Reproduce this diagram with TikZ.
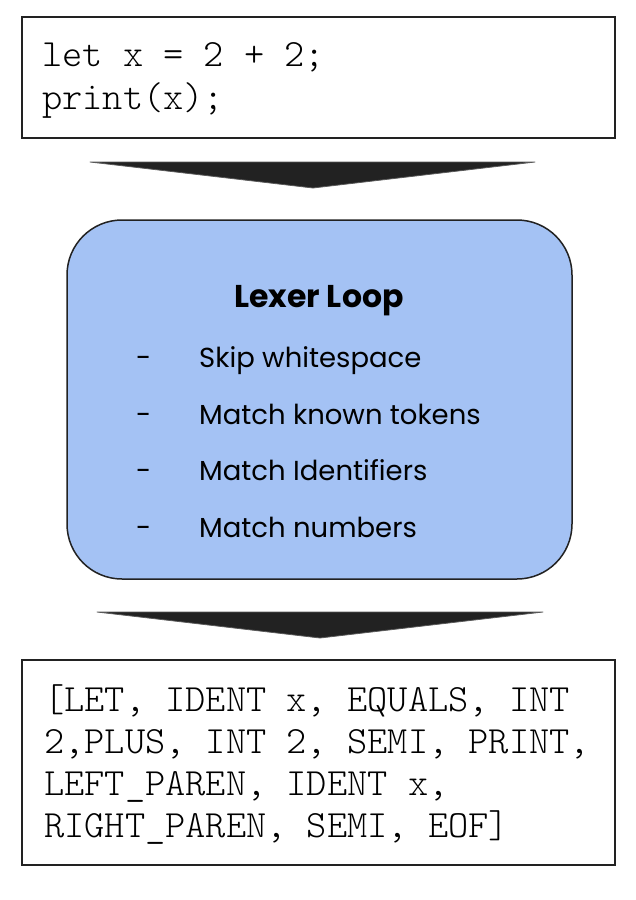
\documentclass[tikz,border=0pt]{standalone}
\usepackage{fontspec}
\setmonofont{Latin Modern Mono Light}
\newfontfamily\loopfont{Poppins}
\usetikzlibrary{positioning}
\definecolor{loopblue}{RGB}{164,194,244}
\definecolor{arrowgray}{RGB}{34,34,34}

\begin{document}
\begin{tikzpicture}[x=1pt,y=-1pt]
                      \useasboundingbox (0,0) rectangle (636,900);
                      \tikzset{codebox/.style={draw=arrowgray,line width=2pt,minimum width=593pt,inner sep=0pt},
                               codeline/.style={anchor=base west,inner sep=0pt,font=\ttfamily\fontsize{38.5}{42}\selectfont},
                               item/.style={anchor=base west,inner sep=0pt,font=\loopfont\fontsize{27.5}{32}\selectfont},
                               bigarrow/.style={fill=arrowgray,draw=gray!70!black,line width=0.8pt,line join=round}}
                      % source code
                      \node[codebox,minimum height=121pt](src)at(318.5,77.5){};
                      \node[codeline](s1)at(42,66){let x = 2 + 2;};
                      \node[codeline](s2)at(42,109){print(x);};
                      % lexer loop
                      \node[draw=arrowgray,line width=1.5pt,fill=loopblue,rounded corners=55pt,minimum width=505pt,minimum height=359pt](lex)at(319.5,399.5){};
                      \node[anchor=base,inner sep=0pt,font=\loopfont\bfseries\fontsize{31.5}{36}\selectfont](title)at(319,307){Lexer Loop};
                      \foreach \txt [count=\i] in {Skip whitespace,Match known tokens,Match Identifiers,Match numbers}{
                        \node[item](d\i)at(136,311+56.5*\i){-};
                        \node[item](t\i)at(199,311+56.5*\i){\txt};
                      }
                      % tokens
                      \node[codebox,minimum height=205pt](tok)at(318.5,762){};
                      \node[codeline](k1)at(44,711){[LET, IDENT x, EQUALS, INT};
                      \node[codeline](k2)at(44,753){2,PLUS, INT 2, SEMI, PRINT,};
                      \node[codeline](k3)at(44,795){LEFT\_PAREN, IDENT x,};
                      \node[codeline](k4)at(44,837){RIGHT\_PAREN, SEMI, EOF]};
                      % arrows
                      \coordinate(a1)at(90,162);
                      \coordinate(a2)at(535,162);
                      \coordinate(a3)at(313,188);
                      \draw[bigarrow] (a1) -- (a2) -- (a3) -- cycle;
                      \coordinate(b1)at(97,612);
                      \coordinate(b2)at(543,612);
                      \coordinate(b3)at(320,638);
                      \draw[bigarrow] (b1) -- (b2) -- (b3) -- cycle;
                  \end{tikzpicture}
\end{document}
